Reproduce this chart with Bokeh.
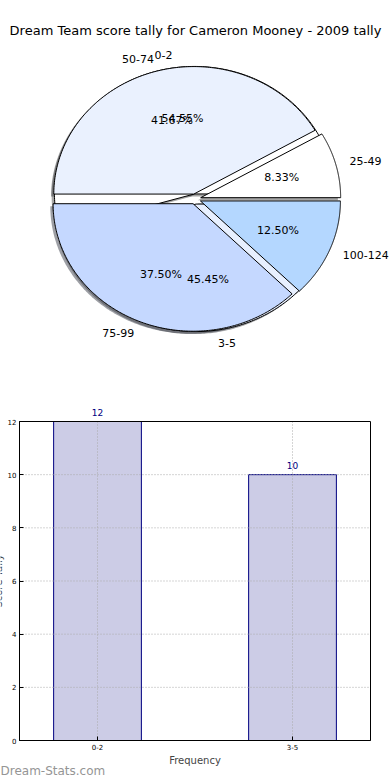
import numpy as np
from bokeh.plotting import figure
from bokeh.models import Range1d, FixedTicker, Label
from bokeh.layouts import column
from bokeh.core.properties import value
from bokeh.embed import file_html
from bokeh.resources import INLINE

# ---------------- data ----------------
title_text = "Dream Team score tally for Cameron Mooney - 2009 tally"
score_ranges = ["25-49", "50-74", "75-99", "100-124"]
score_counts = [2, 10, 9, 3]
freq_ranges = ["0-2", "3-5"]
freq_counts = [12, 10]
x_label = "Frequency"
y_label = "Score Tally"
watermark = "Dream-Stats.com"
y_ticks = [0, 2, 4, 6, 8, 10, 12]

# ---------------- styles ----------------
FONT = "DejaVu Sans"
score_colors = ["#FFFFFF", "#EAF1FE", "#C5D8FF", "#B4D7FF"]
freq_colors = ["#FFFFFF", "#E8F0FF"]
EXPLODE = 0.04
SHADOW = 0.02

# pie geometry on the page (pixels)
W1, H1 = 390, 398
CX, CY, RX, RY = 194.75, 198.5, 140.0, 127.5

p1 = figure(width=W1, height=H1, output_backend="svg", toolbar_location=None,
            x_range=Range1d(-CX / RX, (W1 - CX) / RX),
            y_range=Range1d((CY - H1) / RY, CY / RY),
            x_axis_location=None, y_axis_location=None, min_border=0)
p1.grid.visible = False
p1.outline_line_color = None


def pie_parts(counts):
    tot = float(sum(counts))
    fr = np.array(counts) / tot
    ends = np.cumsum(fr) * 2 * np.pi
    starts = ends - fr * 2 * np.pi
    polys_x, polys_y, mids = [], [], []
    for t1, t2 in zip(starts, ends):
        mid = (t1 + t2) / 2
        ox, oy = EXPLODE * np.cos(mid), EXPLODE * np.sin(mid)
        th = np.linspace(t1, t2, 200)
        polys_x.append(np.concatenate([[ox], ox + np.cos(th), [ox]]))
        polys_y.append(np.concatenate([[oy], oy + np.sin(th), [oy]]))
        mids.append(mid)
    return fr, polys_x, polys_y, mids


def darker(c):
    c = c.lstrip("#")
    r, g, b = (int(c[i:i + 2], 16) for i in (0, 2, 4))
    return "#%02x%02x%02x" % (int(r * 0.3), int(g * 0.3), int(b * 0.3))


pies = [(freq_ranges, freq_counts, freq_colors), (score_ranges, score_counts, score_colors)]
parts = [pie_parts(c) for _, c, _ in pies]

for (labels, counts, cols), (fr, px, py, mids) in zip(pies, parts):
    p1.patches([x - SHADOW for x in px], [y - SHADOW for y in py],
               fill_color=[darker(c) for c in cols], fill_alpha=0.5, line_color=None)
for (labels, counts, cols), (fr, px, py, mids) in zip(pies, parts):
    p1.patches(px, py, fill_color=cols, line_color="black", line_width=1)
for (labels, counts, cols), (fr, px, py, mids) in zip(pies, parts):
    for lab, f, mid in zip(labels, fr, mids):
        ox, oy = EXPLODE * np.cos(mid), EXPLODE * np.sin(mid)
        lx, ly = ox + 1.1 * np.cos(mid), oy + 1.1 * np.sin(mid)
        p1.text([lx], [ly], text=[lab], text_font=value(FONT), text_font_size="11px",
                text_align="left" if lx > 0 else "right", text_baseline="middle",
                text_color="black")
        tx, ty = ox + 0.6 * np.cos(mid), oy + 0.6 * np.sin(mid)
        p1.text([tx], [ty], text=["%.2f%%" % (f * 100)], text_font=value(FONT),
                text_font_size="11px", text_align="center", text_baseline="middle",
                text_color="black")

p1.add_layout(Label(x=(195 - CX) / RX, y=(CY - 30) / RY, text=title_text,
                    text_font=FONT, text_font_size="13px", text_align="center",
                    text_baseline="middle", text_color="black"))

# ---------------- bar chart ----------------
W2, H2 = 390, 780 - H1
XL, XR = -0.4, 1.4              # axes box in data units
BX0, BX1 = 19.0, 370.0          # box left/right on page
BY0, BY1 = 421.0, 740.0         # box top/bottom on page
YMAX = max(y_ticks)
sx = (BX1 - BX0) / (XR - XL)
sy = (BY1 - BY0) / YMAX
x_lo = XL - BX0 / sx
x_hi = XR + (W2 - BX1) / sx
y_hi = (BY1 - H1) / sy
y_lo = -(780 - BY1) / sy

p2 = figure(width=W2, height=H2, output_backend="svg", toolbar_location=None,
            x_range=Range1d(x_lo, x_hi), y_range=Range1d(y_lo, y_hi), min_border=0)
p2.grid.visible = False
p2.outline_line_color = None
xs = list(range(len(freq_ranges)))

p2.vbar(x=xs, top=freq_counts, width=0.45, bottom=0,
        fill_color="#CCCCE6", line_color="#000080", line_width=1)

# dotted grid
p2.segment(x0=[XL] * len(y_ticks), y0=y_ticks, x1=[XR] * len(y_ticks), y1=y_ticks,
           line_color="#aaaaaa", line_dash="1 2", line_width=1)
p2.segment(x0=xs, y0=[0] * len(xs), x1=xs, y1=[YMAX] * len(xs),
           line_color="#aaaaaa", line_dash="1 2", line_width=1)

# axes box
p2.quad(left=[XL], right=[XR], bottom=[0], top=[YMAX], fill_color=None,
        line_color="black", line_width=1)

for xv, v in zip(xs, freq_counts):
    p2.add_layout(Label(x=xv, y=v, text=str(v), y_offset=6,
                        text_align="center", text_baseline="bottom",
                        text_font=FONT, text_font_size="9px", text_color="#000080"))


def style_axis(ax):
    ax.major_label_text_font = FONT
    ax.major_label_text_font_size = "7px"
    ax.major_label_text_color = "black"
    ax.major_tick_in = 4
    ax.major_tick_out = 0
    ax.minor_tick_in = 0
    ax.minor_tick_out = 0
    ax.major_label_standoff = 3
    ax.axis_line_color = "black"
    ax.major_tick_line_color = "black"
    ax.axis_label_text_font = FONT
    ax.axis_label_text_font_size = "10px"
    ax.axis_label_text_font_style = "normal"


xa = p2.xaxis[0]
xa.fixed_location = 0
xa.bounds = (XL, XR)
xa.ticker = FixedTicker(ticks=xs)
xa.major_label_overrides = {i: s for i, s in enumerate(freq_ranges)}
style_axis(xa)
xa.axis_label = x_label
xa.axis_label_standoff = 2

ya = p2.yaxis[0]
ya.fixed_location = XL
ya.bounds = (0, YMAX)
ya.ticker = FixedTicker(ticks=y_ticks)
style_axis(ya)
ya.axis_label = y_label
ya.axis_label_standoff = 1

p2.add_layout(Label(x=0, y=780 - 770, x_units="screen", y_units="screen", text=watermark,
                    text_font=FONT, text_font_size="12px", text_color="#959595",
                    text_align="left", text_baseline="middle"))

for p in (p1, p2):
    try:
        p.frame_align = False
    except Exception:
        pass

layout = column(p1, p2)
open("out.html", "w").write(file_html(layout, INLINE))
